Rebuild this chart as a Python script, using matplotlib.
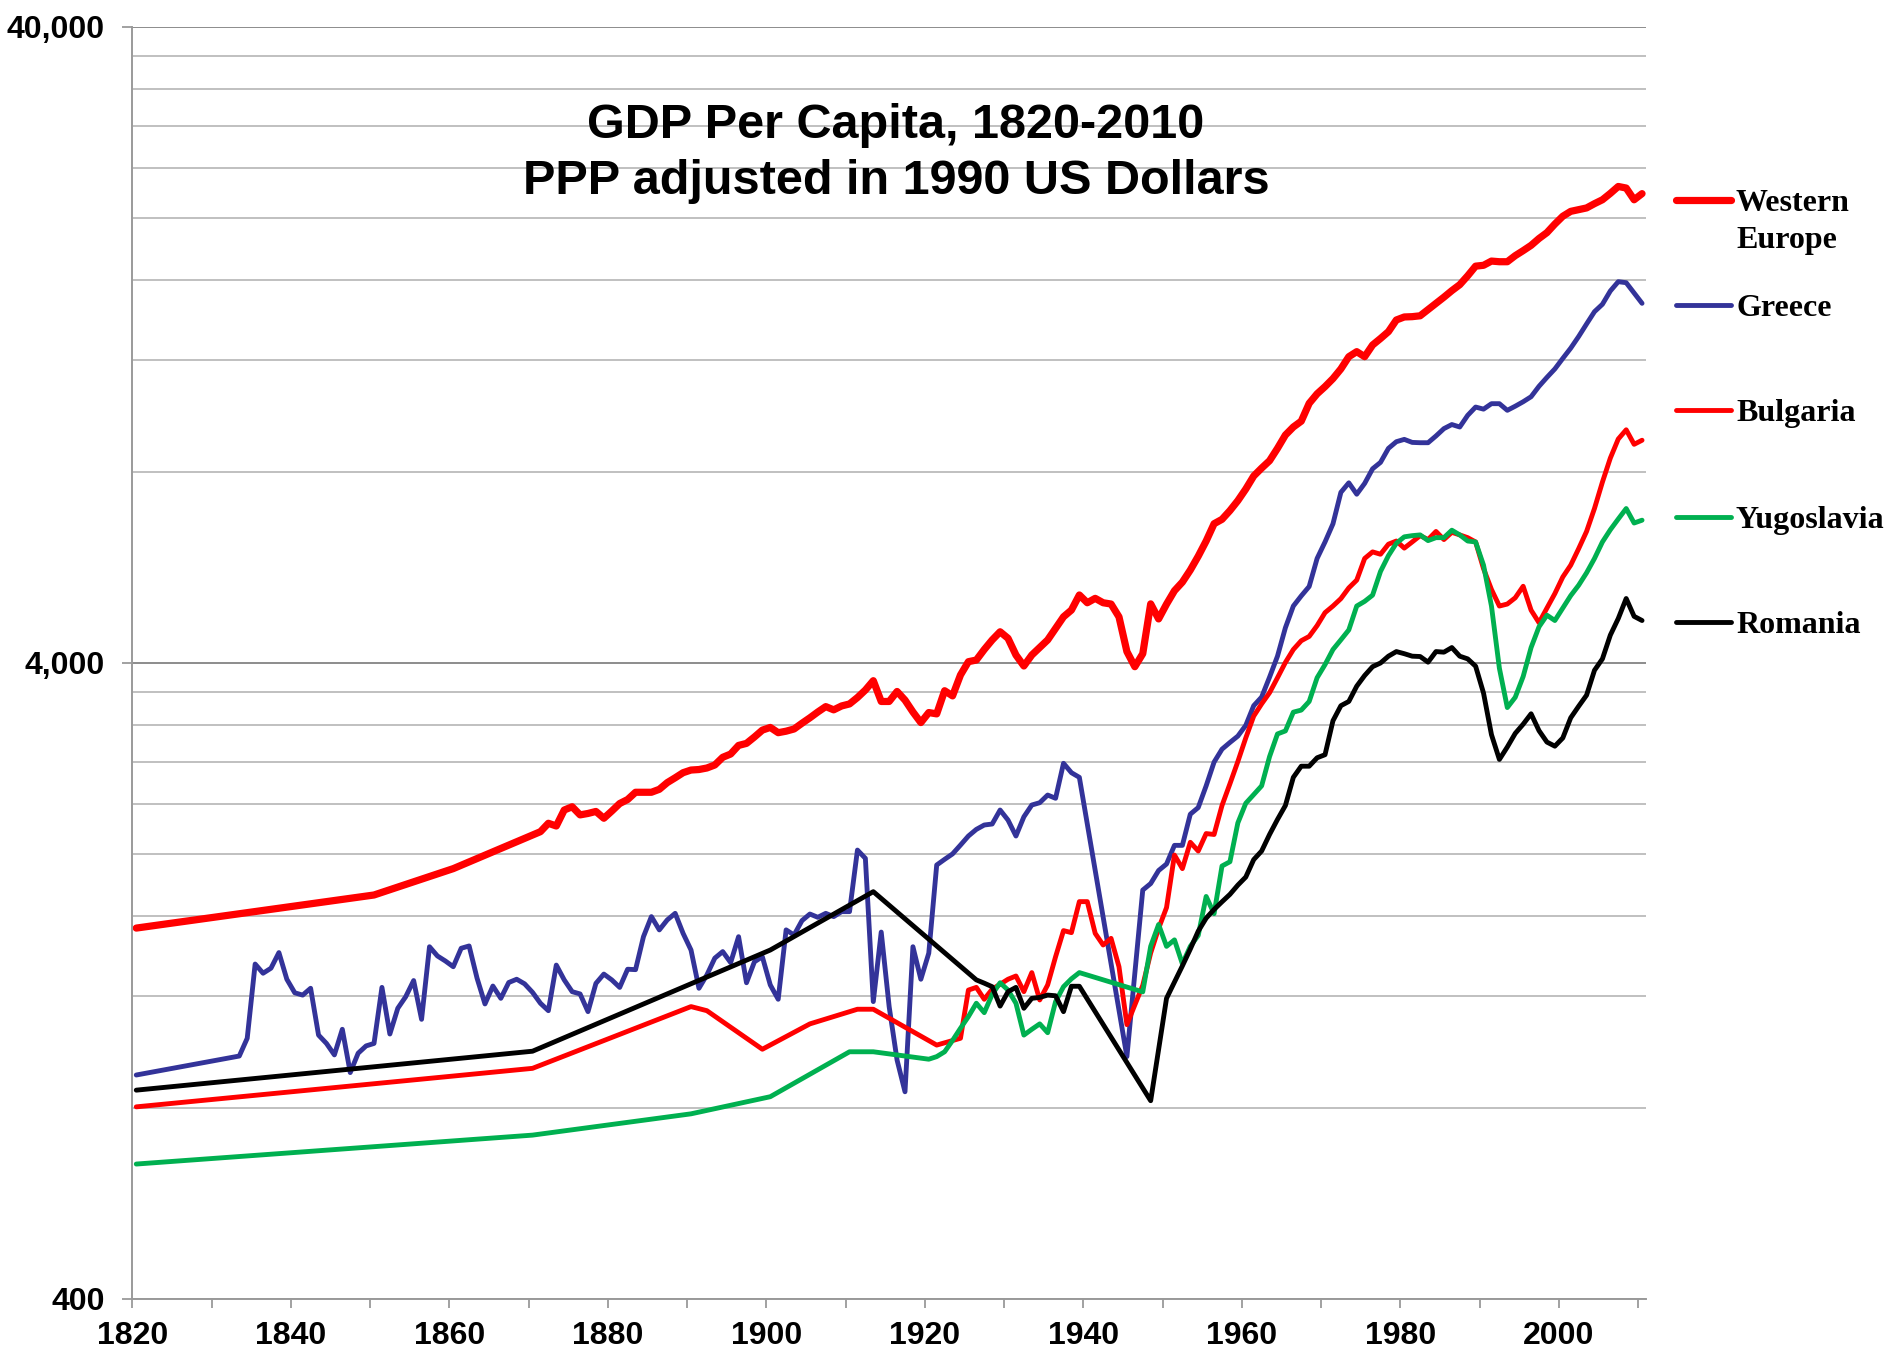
"""GDP per capita 1820-2010, Western Europe vs. the Balkans (log scale)."""

import matplotlib

matplotlib.use("Agg")
import matplotlib.pyplot as plt
import numpy as np
from matplotlib.lines import Line2D
from matplotlib.ticker import FixedLocator, NullFormatter

FIG_W, FIG_H = 1893, 1362

# ---------------------------------------------------------------- data
we_years = [1820, 1850, 1860] + list(range(1870, 2011))
we_values = [
    1532, 1727, 1900,
    2146, 2172, 2239, 2217, 2349, 2377, 2308, 2320, 2337, 2280,
    2340, 2405, 2440, 2505, 2505, 2505, 2532, 2594, 2640, 2689,
    2715, 2720, 2735, 2765, 2843, 2877, 2968, 2990, 3060, 3137,
    3168, 3108, 3125, 3150, 3216, 3280, 3350, 3416, 3376, 3424,
    3449, 3530, 3627, 3752, 3480, 3480, 3608, 3497, 3350, 3224,
    3343, 3327, 3618, 3551, 3830, 4019, 4043, 4200, 4348, 4479,
    4374, 4117, 3957, 4117, 4230, 4348, 4535, 4728, 4845, 5117,
    4975, 5055, 4975, 4952, 4727, 4169, 3947, 4137, 4955, 4692,
    4950, 5196, 5361, 5600, 5888, 6221, 6623, 6729, 6945, 7200,
    7509, 7872, 8100, 8320, 8700, 9131, 9400, 9600, 10240, 10600,
    10880, 11200, 11600, 12124, 12348, 12124, 12649, 12950, 13276, 13848,
    14000, 14016, 14060, 14380, 14700, 15040, 15400, 15736, 16250, 16828,
    16880, 17140, 17100, 17100, 17480, 17800, 18144, 18600, 19000, 19600,
    20160, 20520, 20650, 20776, 21100, 21400, 21900, 22456, 22328, 21400,
    21880,
]

greece_years = [1820] + list(range(1833, 1940)) + list(range(1945, 2011))
greece_values = [
    900,
    964, 1028, 1345, 1301, 1325, 1402, 1273,
    1212, 1202, 1232, 1040, 1009, 968, 1062, 908, 974, 1000,
    1009, 1236, 1044, 1146, 1195, 1267, 1101, 1432, 1385, 1360,
    1332, 1424, 1436, 1278, 1164, 1242, 1188, 1258, 1273, 1252,
    1214, 1167, 1136, 1340, 1270, 1217, 1207, 1132, 1254, 1297,
    1270, 1236, 1320, 1318, 1485, 1597, 1522, 1578, 1616, 1503,
    1415, 1232, 1293, 1374, 1407, 1352, 1485, 1257, 1356, 1381,
    1247, 1184, 1522, 1494, 1574, 1612, 1593, 1616, 1597, 1626,
    1626, 2032, 1972, 1174, 1510, 1153, 950, 847, 1432, 1273,
    1399, 1925, 1965, 2004, 2069, 2138, 2190, 2225, 2233, 2349,
    2265, 2138, 2292, 2392, 2412, 2480, 2451, 2782, 2689, 2644,
    962, 1300, 1758, 1800, 1887,
    1932, 2067, 2067, 2314, 2370, 2564, 2794, 2928, 3000, 3070,
    3192, 3427, 3536, 3800, 4100, 4545, 4916, 5100, 5277, 5840,
    6200, 6620, 7420, 7680, 7370, 7664, 8080, 8270, 8700, 8913,
    8988, 8890, 8880, 8880, 9100, 9345, 9484, 9400, 9805, 10104,
    10028, 10228, 10228, 9985, 10135, 10300, 10489, 10893, 11250, 11600,
    12050, 12505, 13043, 13649, 14271, 14659, 15383, 15908, 15850, 15270,
    14710,
]

bulgaria_years = [1820, 1870, 1890, 1892, 1899, 1905, 1911, 1913, 1921] + list(range(1924, 2011))
bulgaria_values = [
    802, 922, 1153, 1136, 988, 1083, 1142, 1142, 1003,
    1028, 1224, 1236, 1184, 1228, 1250,
    1273, 1288, 1217, 1304, 1181, 1247, 1381, 1518, 1507, 1686,
    1686, 1503, 1441, 1476, 1332, 1080, 1160, 1245, 1400, 1530,
    1650, 1996, 1900, 2090, 2025, 2157, 2150, 2388, 2583, 2800,
    3050, 3300, 3450, 3592, 3792, 4008, 4200, 4336, 4404, 4580,
    4800, 4916, 5050, 5250, 5400, 5840, 5981, 5930, 6150, 6221,
    6063, 6200, 6343, 6254, 6440, 6254, 6420, 6360, 6297, 6200,
    5628, 5220, 4916, 4952, 5065, 5281, 4843, 4628, 4880, 5143,
    5461, 5700, 6050, 6440, 7000, 7700, 8400, 9000, 9305, 8829,
    8960,
]

yugoslavia_years = [1820, 1870, 1890, 1900, 1910, 1913] + list(range(1920, 1940)) + list(range(1947, 2011))
yugoslavia_values = [
    652, 724, 782, 832, 979, 979,
    953, 962, 979, 1020, 1066, 1112, 1167, 1128, 1205, 1257,
    1224, 1167, 1040, 1062, 1083, 1049, 1174, 1239, 1275, 1304,
    1216, 1434, 1552,
    1434, 1468, 1346, 1434, 1492, 1718, 1614, 1918, 1948, 2242,
    2407, 2484, 2564, 2850, 3094, 3128, 3348, 3373, 3480, 3792,
    3977, 4200, 4350, 4509, 4916, 5000, 5114, 5572, 5900, 6171,
    6316, 6343, 6360, 6230, 6297, 6297, 6469, 6360, 6221, 6200,
    5700, 4916, 3925, 3404, 3533, 3809, 4230, 4560, 4756, 4665,
    4880, 5105, 5300, 5544, 5840, 6200, 6480, 6737, 6997, 6640,
    6708,
]

romania_years = [1820, 1870, 1900, 1913] + list(range(1926, 1940)) + [1948] + list(range(1950, 2011))
romania_values = [
    852, 981, 1415, 1748,
    1270, 1255, 1239, 1155,
    1217, 1236, 1146, 1188, 1192, 1202, 1199, 1132, 1241, 1241,
    820,
    1188, 1260, 1336, 1420, 1515, 1588, 1639, 1685, 1731, 1790,
    1843, 1963, 2025, 2150, 2270, 2388, 2644, 2753, 2753, 2838,
    2870, 3245, 3427, 3480, 3678, 3823, 3947, 4000, 4100, 4169,
    4137, 4100, 4095, 4012, 4169, 4160, 4230, 4100, 4060, 3954,
    3587, 3086, 2821, 2951, 3100, 3205, 3328, 3131, 3004, 2960,
    3049, 3280, 3420, 3560, 3896, 4060, 4425, 4699, 5052, 4736,
    4665,
]

SERIES = [
    ("Western Europe", we_years, we_values, "#ff0000", 5.2),
    ("Greece", greece_years, greece_values, "#333399", 3.5),
    ("Bulgaria", bulgaria_years, bulgaria_values, "#ff0000", 3.5),
    ("Yugoslavia", yugoslavia_years, yugoslavia_values, "#00b050", 3.5),
    ("Romania", romania_years, romania_values, "black", 3.5),
]

y_major = [400, 4000, 40000]
y_major_labels = ["400", "4,000", "40,000"]
x_major = list(range(1820, 2001, 20))
x_minor = list(range(1830, 2011, 20))

TICK_FONT = dict(family="Liberation Sans", fontweight="bold", fontsize=23)
LEGEND_FONT = dict(family="Liberation Serif", fontweight="bold", fontsize=23)
AXIS_GRAY = "#9a9a9a"


def _fx(px):
    return px / FIG_W


def _fy(py):
    return 1 - py / FIG_H


fig = plt.figure(figsize=(FIG_W / 100, FIG_H / 100), dpi=100)
ax = fig.add_axes([_fx(132.3), _fy(1299), _fx(1646) - _fx(132.3), _fy(27) - _fy(1299)])

for label, years, values, color, lw in SERIES:
    # points sit in the middle of their year, like a category axis
    ax.plot(np.asarray(years) + 0.5, values, color=color, lw=lw,
            solid_joinstyle="round", solid_capstyle="round", label=label)

ax.set_yscale("log")
ax.set_ylim(400, 40000)
ax.set_xlim(1820, 2011)

ax.yaxis.set_major_locator(FixedLocator(y_major))
ax.set_yticklabels(y_major_labels, **TICK_FONT)
minor_y = [400 * k for k in range(2, 10)] + [4000 * k for k in range(2, 10)]
ax.yaxis.set_minor_locator(FixedLocator(minor_y))
ax.yaxis.set_minor_formatter(NullFormatter())
ax.tick_params(axis="y", which="major", direction="out", length=7, width=1.3,
               color=AXIS_GRAY, pad=13)
ax.tick_params(axis="y", which="minor", length=0)

ax.xaxis.set_major_locator(FixedLocator(x_major))
ax.xaxis.set_minor_locator(FixedLocator(x_minor))
ax.set_xticklabels([str(y) for y in x_major], **TICK_FONT)
ax.tick_params(axis="x", which="both", direction="out", length=6.5, width=1.3,
               color=AXIS_GRAY, pad=9)

ax.set_axisbelow(True)
ax.grid(True, which="major", axis="y", color="#8c8c8c", lw=1.4)
ax.grid(True, which="minor", axis="y", color="#c0c0c0", lw=1.4)
ax.grid(False, axis="x")
for side in ("top", "right"):
    ax.spines[side].set_visible(False)
for side in ("left", "bottom"):
    ax.spines[side].set_color(AXIS_GRAY)
    ax.spines[side].set_linewidth(1.4)

# title, two centred lines
title_font = dict(family="Liberation Sans", fontweight="bold", fontsize=35,
                  ha="center", va="center")
fig.text(_fx(896), _fy(125), "GDP Per Capita, 1820-2010", **title_font)
fig.text(_fx(896), _fy(181), "PPP adjusted in 1990 US Dollars", **title_font)

# legend drawn by hand: handle at y, label baseline just below
legend_rows = [
    (["Western", "Europe"], "#ff0000", 5.2, 200),
    (["Greece"], "#333399", 3.5, 305),
    (["Bulgaria"], "#ff0000", 3.5, 410),
    (["Yugoslavia"], "#00b050", 3.5, 517),
    (["Romania"], "black", 3.5, 622),
]
for lines, color, lw, y in legend_rows:
    fig.add_artist(Line2D([_fx(1676), _fx(1731)], [_fy(y), _fy(y)], color=color,
                          lw=lw, solid_capstyle="round"))
    for i, text in enumerate(lines):
        fig.text(_fx(1736), _fy(y + 11 + 37 * i), text, ha="left",
                 va="baseline", **LEGEND_FONT)

fig.savefig("out.png", dpi=100)
